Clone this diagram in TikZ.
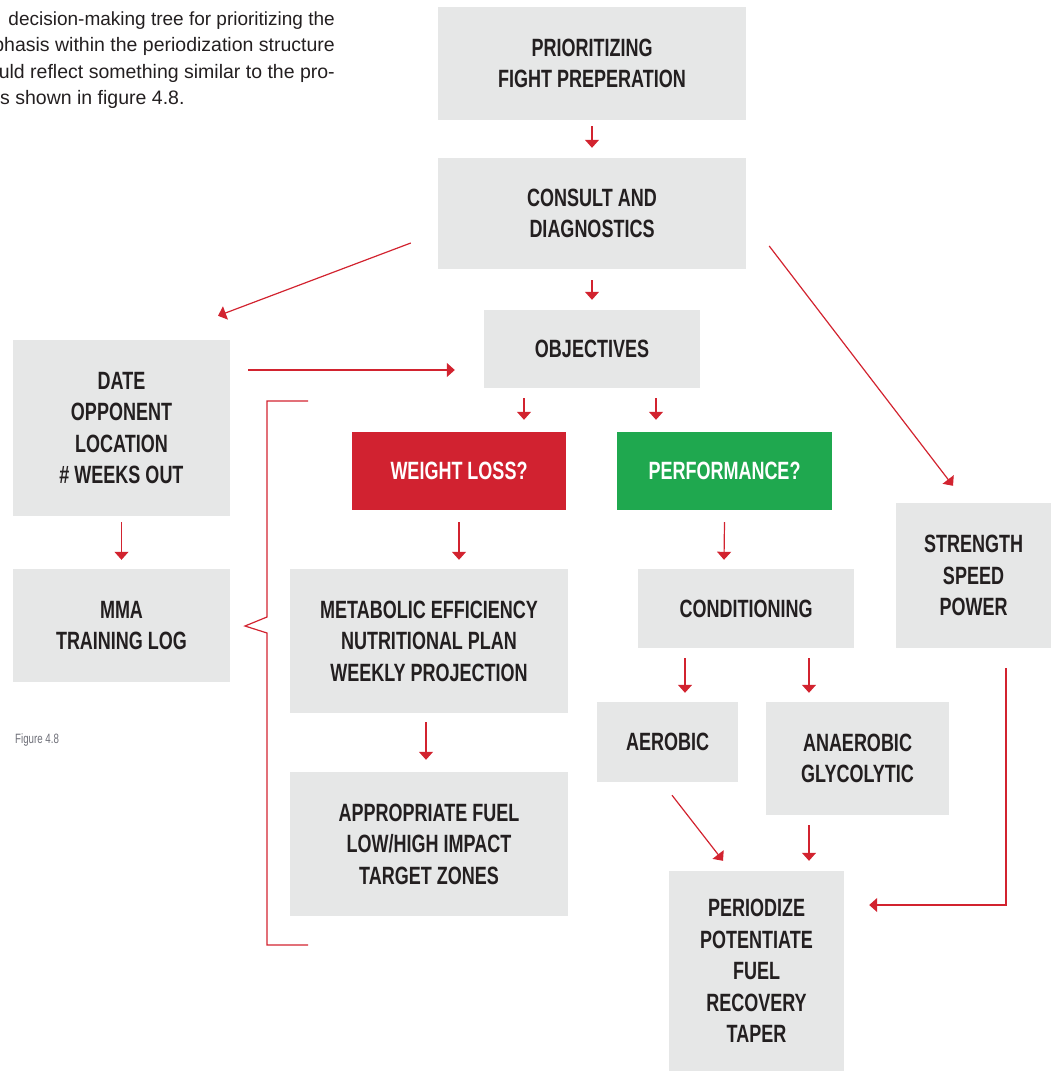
\documentclass[tikz,border=0pt]{standalone}
\usepackage{fontspec}
\setmainfont{Liberation Sans}
\newfontfamily\boxfont[FakeStretch=0.72]{Liberation Sans}
\usetikzlibrary{arrows.meta,calc}
\definecolor{boxgray}{HTML}{E6E7E7}
\definecolor{textdark}{HTML}{231F20}
\definecolor{linered}{HTML}{D2232F}
\definecolor{boxred}{HTML}{D12230}
\definecolor{boxgreen}{HTML}{1FA84F}
\definecolor{figgray}{HTML}{6E6F78}
\begin{document}
\begin{tikzpicture}[x=1pt,y=-1pt,
  box/.style={fill=boxgray, draw=none, inner sep=0pt, align=center, text=textdark,
    font=\boxfont\bfseries\fontsize{25}{31.5}\selectfont},
  redbox/.style={box, fill=boxred, text=white},
  greenbox/.style={box, fill=boxgreen, text=white},
  arr/.style={draw=linered, line width=1.2pt, -{Triangle[width=14pt,length=8pt]}},
  brace/.style={draw=linered, line width=1.2pt},
  para/.style={inner sep=0pt, text=textdark, font=\fontsize{19.5}{26.5}\selectfont}]
\useasboundingbox (0,0) rectangle (1051,1071);

% intro text
\node[para, anchor=base east, font=\fontsize{19}{26.5}\selectfont] (p1) at (335,25) {decision-making tree for prioritizing the};
\node[para, anchor=base east] (p2) at (335,51.5) {phasis within the periodization structure};
\node[para, anchor=base east] (p3) at (335,78) {uld reflect something similar to the pro-};
\node[para, anchor=base west] (p4) at (0,104.5) {s shown in figure 4.8.};

\node[anchor=base west, inner sep=0pt, text=figgray, font=\boxfont\fontsize{13.5}{15}\selectfont] (fig) at (15,743) {Figure 4.8};

% boxes
\node[box, minimum width=308pt, minimum height=113pt] (b1) at (592,63.5) {PRIORITIZING\\FIGHT PREPERATION};
\node[box, minimum width=308pt, minimum height=111pt] (b2) at (592,213.5) {CONSULT AND\\DIAGNOSTICS};
\node[box, minimum width=216pt, minimum height=78pt] (b3) at (592,349) {OBJECTIVES};
\node[box, minimum width=217pt, minimum height=176pt] (b4) at (121.5,428) {DATE\\OPPONENT\\LOCATION\\\# WEEKS OUT};
\node[box, minimum width=217pt, minimum height=113pt] (b5) at (121.5,625.5) {MMA\\TRAINING LOG};
\node[redbox, minimum width=214pt, minimum height=78pt] (b6) at (459,471) {WEIGHT LOSS?};
\node[greenbox, minimum width=215pt, minimum height=78pt] (b7) at (724.5,471) {PERFORMANCE?};
\node[box, minimum width=155pt, minimum height=145pt] (b8) at (973.5,575.5) {STRENGTH\\SPEED\\POWER};
\node[box, minimum width=278pt, minimum height=144pt] (b9) at (429,641) {METABOLIC EFFICIENCY\\NUTRITIONAL PLAN\\WEEKLY PROJECTION};
\node[box, minimum width=216pt, minimum height=79pt] (b10) at (746,608.5) {CONDITIONING};
\node[box, minimum width=141pt, minimum height=80pt] (b11) at (667.5,742) {AEROBIC};
\node[box, minimum width=183pt, minimum height=113pt] (b12) at (857.5,758.5) {ANAEROBIC\\GLYCOLYTIC};
\node[box, minimum width=278pt, minimum height=144pt] (b13) at (429,844) {APPROPRIATE FUEL\\LOW/HIGH IMPACT\\TARGET ZONES};
\node[box, minimum width=175pt, minimum height=200pt] (b14) at (756.5,971) {PERIODIZE\\POTENTIATE\\FUEL\\RECOVERY\\TAPER};

% connectors
\draw[arr] ($(b1.south)+(0,6)$) -- ($(b2.north)+(0,-10)$);
\draw[arr] ($(b2.south)+(0,11)$) -- ($(b3.north)+(0,-10)$);
\draw[arr] ($(b3.south)+(-68,10)$) -- ($(b6.north)+(65,-12)$);
\draw[arr] ($(b3.south)+(64,10)$) -- ($(b7.north)+(-68.5,-12)$);
\draw[arr] ($(b4.south)+(0,6)$) -- ($(b5.north)+(0,-9)$);
\draw[arr] ($(b2.west)+(-27,29.5)$) -- ($(b4.north)+(96.5,-24)$);
\draw[arr] ($(b2.east)+(23,32.5)$) -- ($(b8.north)+(-20.5,-17)$);
\draw[arr] ($(b4.east)+(18,-58)$) -- ($(b3.west)+(-29,21)$);
\draw[arr] ($(b6.south)+(0,12)$) -- ($(b9.north)+(30,-9)$);
\draw[arr] ($(b7.south)+(0,12)$) -- ($(b10.north)+(-22,-9)$);
\draw[arr] ($(b10.south)+(-61,10)$) -- ($(b11.north)+(17.5,-9)$);
\draw[arr] ($(b10.south)+(63,10)$) -- ($(b12.north)+(-48.5,-9)$);
\draw[arr] ($(b9.south)+(-3,9)$) -- ($(b13.north)+(-3,-12)$);
\draw[arr] ($(b11.south)+(4.5,13)$) -- ($(b14.north)+(-33.5,-10)$);
\draw[arr] ($(b12.south)+(-48.5,10)$) -- ($(b14.north)+(52.5,-10)$);
\draw[arr] ($(b8.south)+(32.5,20)$) |- ($(b14.east)+(25,-66)$);

% bracket
\coordinate (brA) at (308,401);
\coordinate (brB) at (267,401);
\coordinate (brC) at (267,617);
\coordinate (brTip) at (245,626);
\coordinate (brD) at (267,633);
\coordinate (brE) at (267,945);
\coordinate (brF) at (308,945);
\draw[brace] (brA) -- (brB) -- (brC) -- (brTip) -- (brD) -- (brE) -- (brF);
\end{tikzpicture}
\end{document}
